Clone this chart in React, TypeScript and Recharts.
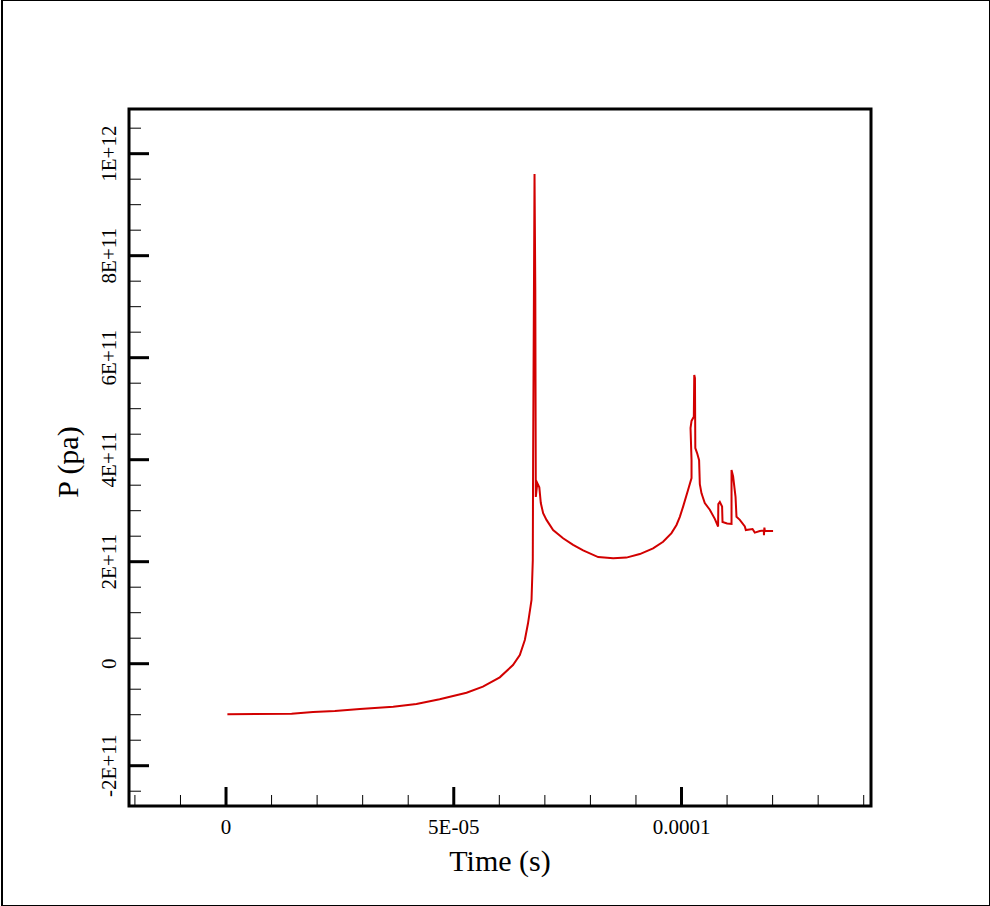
import React from "react";
import { Label, Line, LineChart, ReferenceArea, XAxis, YAxis } from "recharts";

// time in microseconds, pressure in units of 1E+11 Pa
const TIME_US = [
  0.3, 14.4, 19.1, 23.9, 29.4, 36.7, 41.8, 46.9, 52.8, 56.4,
  60.1, 63.0, 64.5, 65.6, 66.3, 66.85, 67.07, 67.35, 67.42, 67.73,
  67.9, 68.01, 68.34, 68.78, 69.11, 69.62, 70.36, 71.81, 74.0, 76.2,
  78.4, 81.7, 85.0, 87.9, 90.85, 93.76, 95.96, 97.8, 98.9, 99.63,
  100.35, 101.45, 102.2, 102.2, 101.98, 102.2, 102.7, 102.8, 102.95, 103.03,
  103.42, 103.86, 104.02, 104.39, 105.11, 106.21, 107.31, 108.03, 108.08, 108.41,
  108.91, 109.0, 110.01, 110.98, 110.98, 111.33, 111.86, 112.07, 112.8, 113.9,
  114.12, 115.59, 116.09, 117.19, 118.07, 118.1, 118.2, 118.3, 120.1,
];
const PRESSURE_E11 = [
  -0.99, -0.98, -0.947, -0.927, -0.887, -0.843, -0.79, -0.698, -0.569, -0.451,
  -0.267, -0.025, 0.171, 0.465, 0.792, 1.118, 1.249, 2.03, 4.05, 9.6,
  7.33, 3.27, 3.54, 3.46, 3.15, 2.95, 2.82, 2.62, 2.46, 2.33,
  2.22, 2.09, 2.07, 2.08, 2.15, 2.26, 2.39, 2.56, 2.72, 2.88,
  3.08, 3.41, 3.64, 3.99, 4.62, 4.76, 4.84, 5.66, 5.6, 4.23,
  4.13, 3.99, 3.52, 3.34, 3.15, 3.02, 2.84, 2.69, 3.13, 3.17,
  3.08, 2.78, 2.75, 2.74, 3.8, 3.67, 3.27, 2.88, 2.82, 2.69,
  2.62, 2.64, 2.57, 2.6, 2.61, 2.52, 2.67, 2.6, 2.6,
];

const X_TICKS = [0, 5e-5, 1e-4];
const X_TICK_LABELS = ["0", "5E-05", "0.0001"];
const X_MINOR_US = [-20, -10, 10, 20, 30, 40, 60, 70, 80, 90, 110, 120, 130, 140];

const Y_TICKS_E11 = [-2, 0, 2, 4, 6, 8, 10];
const Y_TICK_LABELS = ["-2E+11", "0", "2E+11", "4E+11", "6E+11", "8E+11", "1E+12"];
const Y_MINOR_E11 = [
  -2.5, -1.5, -1, -0.5, 0.5, 1, 1.5, 2.5, 3, 3.5, 4.5, 5, 5.5,
  6.5, 7, 7.5, 8.5, 9, 9.5, 10.5,
];

const X_DOMAIN: [number, number] = [-21.3e-6, 141.6e-6];
const Y_DOMAIN: [number, number] = [-2.79e11, 10.876e11];

const data = TIME_US.map((t, i) => ({ t: t * 1e-6, p: PRESSURE_E11[i] * 1e11 }));
const yTicks = Y_TICKS_E11.map((v) => v * 1e11);
const yMinor = Y_MINOR_E11.map((v) => v * 1e11);
const xMinor = X_MINOR_US.map((v) => v * 1e-6);

const SERIF = "'Times New Roman', 'Liberation Serif', serif";

const labelFor = (ticks: number[], labels: string[], v: number) => {
  const i = ticks.findIndex((t) => Math.abs(t - v) <= Math.abs(v) * 1e-9 + 1e-30);
  return i >= 0 ? labels[i] : "";
};

function XTick({ x, y, payload }: any) {
  return (
    <text x={x} y={y + 27.5} textAnchor="middle" fontFamily={SERIF} fontSize={21} fill="#000">
      {labelFor(X_TICKS, X_TICK_LABELS, payload.value)}
    </text>
  );
}

function YTick({ x, y, payload }: any) {
  const bx = x - 13;
  return (
    <text
      x={bx}
      y={y}
      transform={`rotate(-90 ${bx} ${y})`}
      textAnchor="middle"
      fontFamily={SERIF}
      fontSize={21}
      fill="#000"
    >
      {labelFor(yTicks, Y_TICK_LABELS, payload.value)}
    </text>
  );
}

const noLabel = () => <g />;

export default function App() {
  return (
    <div style={{ position: "absolute", left: 0, top: 0, width: 990, height: 906, background: "#fff" }}>
      <div
        style={{
          position: "absolute",
          left: 1,
          top: 0,
          width: 989,
          height: 906,
          boxSizing: "border-box",
          border: "1px solid #000",
          borderLeftWidth: 2,
        }}
      />
      <div style={{ position: "absolute", left: 0, top: 0 }}>
        <LineChart width={990} height={906} data={data} margin={{ top: 109, right: 119, bottom: 70, left: 69 }}>
          <XAxis
            dataKey="t"
            type="number"
            domain={X_DOMAIN}
            allowDataOverflow
            ticks={X_TICKS}
            interval={0}
            height={30}
            tickSize={0}
            tickMargin={0}
            tickLine={false}
            axisLine={false}
            tick={<XTick />}
          >
            <Label
              content={({ viewBox }: any) => (
                <text
                  x={viewBox.x + viewBox.width / 2}
                  y={871}
                  textAnchor="middle"
                  fontFamily={SERIF}
                  fontSize={30}
                  fill="#000"
                >
                  Time (s)
                </text>
              )}
            />
          </XAxis>
          <XAxis
            xAxisId="major"
            dataKey="t"
            type="number"
            domain={X_DOMAIN}
            allowDataOverflow
            ticks={X_TICKS}
            interval={0}
            mirror
            height={1}
            tickSize={19}
            tickLine={{ stroke: "#000", strokeWidth: 3 }}
            axisLine={false}
            tick={noLabel}
          />
          <XAxis
            xAxisId="minor"
            dataKey="t"
            type="number"
            domain={X_DOMAIN}
            allowDataOverflow
            ticks={xMinor}
            interval={0}
            mirror
            height={1}
            tickSize={10}
            tickLine={{ stroke: "#000", strokeWidth: 1 }}
            axisLine={false}
            tick={noLabel}
          />
          <YAxis
            type="number"
            domain={Y_DOMAIN}
            allowDataOverflow
            ticks={yTicks}
            interval={0}
            width={60}
            tickSize={0}
            tickMargin={0}
            tickLine={false}
            axisLine={false}
            tick={<YTick />}
          >
            <Label
              content={() => (
                <text
                  x={78}
                  y={462}
                  transform="rotate(-90 78 462)"
                  textAnchor="middle"
                  fontFamily={SERIF}
                  fontSize={30}
                  fill="#000"
                >
                  P (pa)
                </text>
              )}
            />
          </YAxis>
          <YAxis
            yAxisId="major"
            type="number"
            domain={Y_DOMAIN}
            allowDataOverflow
            ticks={yTicks}
            interval={0}
            mirror
            width={1}
            tickSize={20}
            tickLine={{ stroke: "#000", strokeWidth: 3 }}
            axisLine={false}
            tick={noLabel}
          />
          <YAxis
            yAxisId="minor"
            type="number"
            domain={Y_DOMAIN}
            allowDataOverflow
            ticks={yMinor}
            interval={0}
            mirror
            width={1}
            tickSize={11}
            tickLine={{ stroke: "#000", strokeWidth: 1 }}
            axisLine={false}
            tick={noLabel}
          />
          <ReferenceArea
            x1={X_DOMAIN[0]}
            x2={X_DOMAIN[1]}
            y1={Y_DOMAIN[0]}
            y2={Y_DOMAIN[1]}
            fill="none"
            stroke="#000"
            strokeWidth={3}
            ifOverflow="visible"
          />
          <Line
            dataKey="p"
            type="linear"
            stroke="#d20000"
            strokeWidth={2}
            dot={false}
            activeDot={false}
            isAnimationActive={false}
          />
        </LineChart>
      </div>
    </div>
  );
}
